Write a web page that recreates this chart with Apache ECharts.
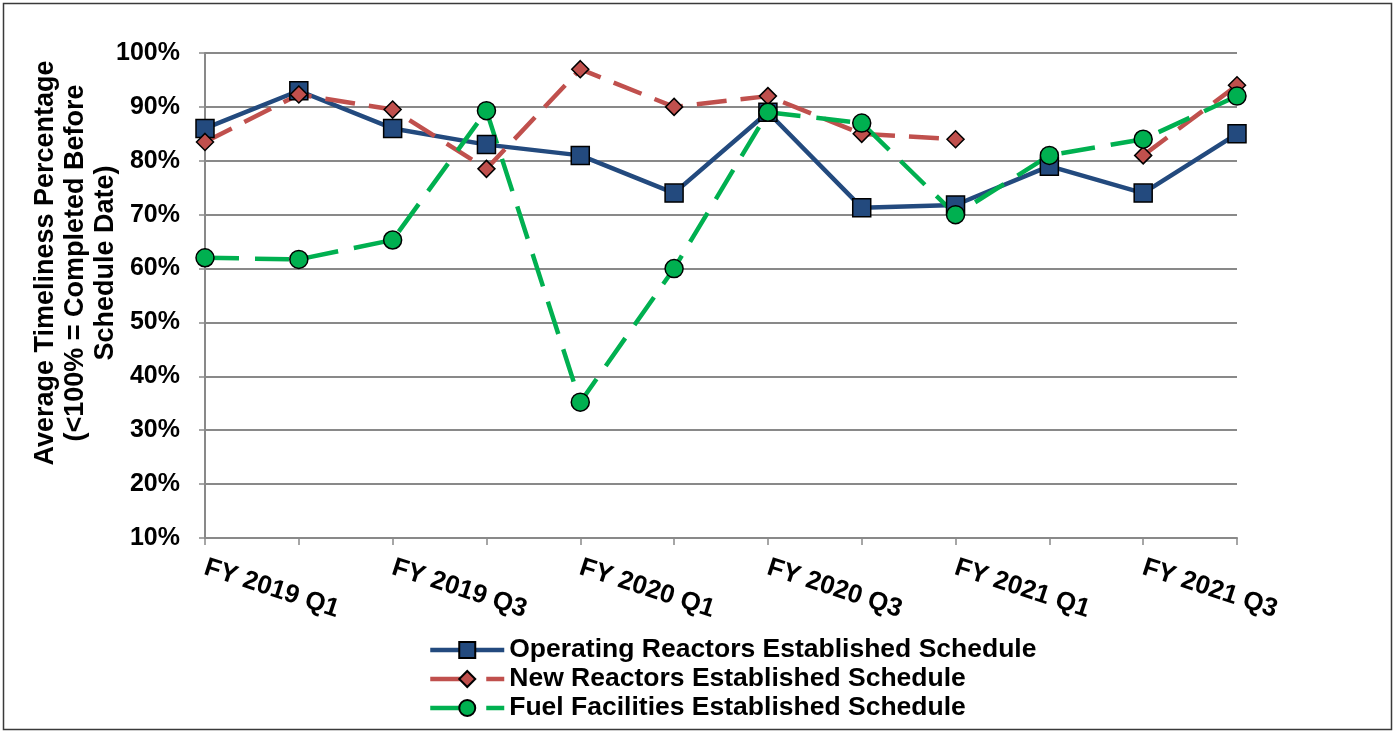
<!DOCTYPE html>
<html>
<head>
<meta charset="utf-8">
<script src="https://cdn.jsdelivr.net/npm/echarts@6/dist/echarts.min.js"></script>
<style>
html,body{margin:0;padding:0;background:#fff;}
#c{width:1395px;height:733px;}
</style>
</head>
<body>
<div id="c"></div>
<script>
const categories = ['FY 2019 Q1','FY 2019 Q2','FY 2019 Q3','FY 2019 Q4','FY 2020 Q1','FY 2020 Q2','FY 2020 Q3','FY 2020 Q4','FY 2021 Q1','FY 2021 Q2','FY 2021 Q3','FY 2021 Q4'];
const operatingReactors = [86, 93, 86, 83, 81, 74, 89, 71.3, 71.8, 79, 74, 85];
const newReactors = [83.5, 92.3, 89.5, 78.5, 97, 90, 92, 85, 84, null, 81, 94];
const fuelFacilities = [62, 61.7, 65.3, 89.3, 35.2, 60, 89, 87, 70, 81, 84, 92];
const seriesNames = ['Operating Reactors Established Schedule','New Reactors Established Schedule','Fuel Facilities Established Schedule'];
const yTitle = 'Average Timeliness Percentage\n(<100% = Completed Before\nSchedule Date)';

const FONT = '"Liberation Sans", Arial, sans-serif';
const chart = echarts.init(document.getElementById('c'), null, {renderer:'canvas'});
const gray = '#898989';
chart.setOption({
  backgroundColor: '#fff',
  animation: false,
  graphic: [
    {type:'rect', shape:{x:3.5,y:3.5,width:1388,height:726}, style:{fill:'none', stroke:'#3a3a3a', lineWidth:1.5}, z:-1},
    {type:'text', x:76, y:263, rotation:Math.PI/2,
     style:{text:yTitle, font:'bold 27px ' + FONT, fill:'#000', align:'center', verticalAlign:'middle', lineHeight:30}}
  ],
  grid: {left:205, right:158, top:53, bottom:195, containLabel:false},
  legend: {
    orient:'vertical', left:423, top:631,
    itemWidth:74, itemHeight:20, itemGap:1,
    lineStyle:{width:4.5},
    textStyle:{fontFamily:FONT, fontWeight:'bold', fontSize:26.5, color:'#000', lineHeight:28},
    data: [
      {name:seriesNames[0]},
      {name:seriesNames[1], lineStyle:{width:4.5, type:[30,26]}},
      {name:seriesNames[2], lineStyle:{width:4.5, type:[30,26]}}
    ]
  },
  xAxis: {
    type:'category', data:categories, boundaryGap:false,
    axisLine:{lineStyle:{color:gray, width:2}},
    axisTick:{show:true, interval:0, length:7, lineStyle:{color:gray, width:1.5}},
    axisLabel:{interval:1, rotate:-18, margin:29, color:'#000', fontFamily:FONT, fontWeight:'bold', fontSize:26},
    splitLine:{show:false}
  },
  yAxis: {
    type:'value', min:10, max:100, interval:10,
    axisLine:{show:true, lineStyle:{color:gray, width:2}},
    axisTick:{show:true, length:6, lineStyle:{color:gray, width:1.5}},
    axisLabel:{formatter:'{value}%', margin:25, color:'#000', fontFamily:FONT, fontWeight:'bold', fontSize:25},
    splitLine:{show:true, lineStyle:{color:gray, width:2}}
  },
  series: [
    {name:seriesNames[0], type:'line', data:operatingReactors,
     symbol:'rect', symbolSize:18,
     lineStyle:{color:'#234a7e', width:4.5},
     itemStyle:{color:'#234a7e', borderColor:'#000', borderWidth:1.5}},
    {name:seriesNames[1], type:'line', data:newReactors, connectNulls:false,
     symbol:'diamond', symbolSize:17,
     lineStyle:{color:'#c0504d', width:4.5, type:[30,14]},
     itemStyle:{color:'#c0504d', borderColor:'#000', borderWidth:1.5}},
    {name:seriesNames[2], type:'line', data:fuelFacilities,
     symbol:'circle', symbolSize:18,
     lineStyle:{color:'#00b050', width:4.5, type:[34,16]},
     itemStyle:{color:'#00b050', borderColor:'#000', borderWidth:1.5}}
  ]
});
</script>
</body>
</html>
